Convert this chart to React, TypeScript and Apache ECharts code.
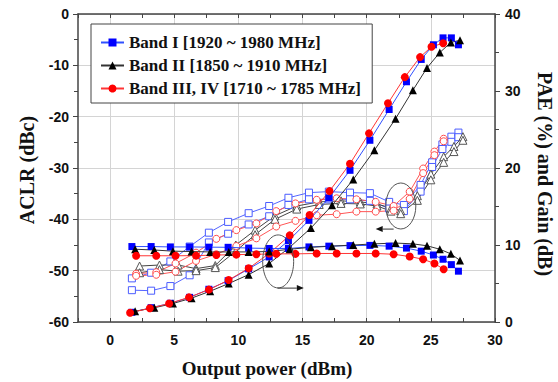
import React, { useEffect, useRef } from "react";
import * as echarts from "echarts";

const SERIF = "'Liberation Serif', 'Times New Roman', serif";
const SANS = "'Liberation Sans', Arial, sans-serif";

// ---------------- data ----------------
const bandNames = [
  "Band I [1920 ~ 1980 MHz]",
  "Band II [1850 ~ 1910 MHz]",
  "Band III, IV [1710 ~ 1785 MHz]",
];

// Band I (blue)
const bandIPower = [1.7, 3.2, 4.7, 6.2, 7.7, 9.2, 10.8, 12.4, 13.9, 15.5, 17.05, 18.7, 20.25, 21.75, 23.1, 24.25, 25.2, 25.95, 26.6, 27.15];
const bandIPae = [1.26, 1.86, 2.43, 3.2, 4.25, 5.36, 6.9, 8.45, 10.55, 13.2, 16.1, 19.7, 23.6, 27.6, 31.2, 34.1, 36.0, 36.9, 36.9, 36.0];
const bandIGain = [9.8, 9.8, 9.75, 9.75, 9.72, 9.7, 9.6, 9.55, 9.55, 9.75, 9.85, 9.92, 9.95, 9.85, 9.6, 9.2, 8.7, 8.15, 7.45, 6.6];
const bandIAclrPower = [1.7, 3.2, 4.7, 6.2, 7.7, 9.2, 10.8, 12.4, 13.9, 15.5, 17.05, 18.7, 20.25, 21.75, 22.9, 24.2, 25.1, 25.9, 26.6, 27.15];
const bandIAclrA = [-51.5, -50.4, -48.2, -45.3, -42.6, -40.5, -38.8, -37.4, -35.8, -34.8, -34.6, -34.8, -34.9, -36.6, -37.2, -33.3, -28.9, -25.4, -23.9, -23.1];
const bandIAclrB = [-53.8, -53.9, -53.0, -50.9, -44.5, -42.8, -41.0, -39.4, -37.2, -36.1, -36.1, -36.1, -36.4, -37.9, -38.4, -34.6, -29.8, -26.3, -24.9, -24.0];

// Band II (black)
const bandIIPower = [1.95, 3.45, 4.9, 6.35, 7.8, 9.25, 10.8, 12.4, 14.0, 15.65, 17.3, 18.95, 20.6, 22.25, 23.6, 24.7, 25.7, 26.56, 27.27];
const bandIIPae = [1.4, 1.85, 2.4, 3.1, 4.0, 5.0, 6.15, 7.6, 9.7, 12.2, 15.15, 18.5, 22.3, 26.4, 30.1, 33.0, 35.0, 36.3, 36.6];
const bandIIGain = [9.45, 9.35, 9.2, 9.15, 9.1, 9.1, 9.1, 9.15, 9.45, 9.7, 9.85, 10.0, 10.15, 10.25, 10.15, 9.9, 9.45, 8.85, 8.0];
const bandIIAclrPower = [2.3, 3.85, 5.3, 6.7, 8.2, 9.8, 11.3, 12.85, 14.55, 16.3, 18.0, 19.5, 20.8, 21.9, 22.65, 23.95, 25.0, 26.0, 26.8, 27.5];
const bandIIAclrA = [-49.1, -48.9, -48.9, -49.6, -49.0, -45.0, -42.1, -39.3, -37.4, -36.6, -36.4, -36.6, -37.0, -37.8, -38.3, -35.4, -31.2, -27.8, -25.8, -23.9];
const bandIIAclrB = [-50.4, -49.8, -50.1, -50.0, -49.4, -46.2, -43.0, -40.0, -38.0, -37.1, -36.9, -37.0, -37.4, -38.4, -38.9, -36.3, -32.3, -28.9, -26.8, -24.6];

// Band III, IV (red)
const bandIIIPaePower = [1.56, 3.1, 4.6, 6.15, 7.7, 9.24, 10.8, 12.4, 14.0, 15.55, 17.1, 18.7, 20.18, 21.66, 22.97, 24.16, 25.05, 25.96];
const bandIIIPae = [1.2, 1.78, 2.4, 3.2, 4.2, 5.45, 6.97, 8.9, 11.25, 13.9, 17.0, 20.55, 24.5, 28.4, 31.8, 34.4, 35.75, 36.2];
const bandIIIPower = [2.03, 3.6, 5.1, 6.7, 8.28, 9.84, 11.4, 12.95, 14.45, 16.1, 17.66, 19.2, 20.7, 22.1, 23.35, 24.4, 25.28, 26.0];
const bandIIIGain = [8.6, 8.6, 8.6, 8.62, 8.7, 8.75, 8.8, 8.85, 8.85, 8.9, 8.9, 8.9, 8.9, 8.8, 8.5, 8.15, 7.6, 6.85];
const bandIIIAclrA = [-50.6, -50.3, -48.6, -46.5, -43.8, -42.1, -40.8, -38.4, -36.9, -36.2, -35.9, -36.1, -36.6, -37.4, -34.6, -30.1, -26.8, -24.3];
const bandIIIAclrB = [-51.0, -50.8, -50.2, -48.1, -46.8, -45.2, -43.7, -41.4, -40.3, -39.2, -39.0, -38.5, -38.5, -38.3, -36.0, -31.0, -27.5, -24.8];

// axes
const xMin = -2.5;
const xMax = 30;
const xStep = 2.5;
const aclrMin = -60;
const aclrMax = 0;
const paeMin = 0;
const paeMax = 40;

// annotations (data coords on x / ACLR axis)
const noteEllipses = [
  { cx: 13.1, cy: -48.2, rx: 15.5, ry: 26.5, ax0: 13.05, ax1: 15.1, ay: -53.4 },
  { cx: 22.66, cy: -37.4, rx: 15, ry: 23, ax0: 22.1, ax1: 20.7, ay: -41.9 },
];

// ---------------- helpers ----------------
const zip = (xs: number[], ys: number[]) => ys.map((y, i) => [xs[i], y]);

const colors = {
  blue: { mark: "#0000ff", line: "#3050ff" },
  black: { mark: "#000000", line: "#333333" },
  red: { mark: "#ff0000", line: "#ff3535" },
  blueOpen: { mark: "#4a5cff", line: "#5565ff" },
  blackOpen: { mark: "#555555", line: "#444444" },
  redOpen: { mark: "#ff4a4a", line: "#ff5555" },
};

function lineSeries(
  name: string,
  data: number[][],
  yAxisIndex: number,
  symbol: string,
  size: number,
  c: { mark: string; line: string },
  z: number,
  hollow = false
) {
  return {
    type: "line",
    name,
    data,
    xAxisIndex: 0,
    yAxisIndex,
    symbol,
    symbolSize: size,
    showAllSymbol: true,
    z,
    lineStyle: { color: c.line, width: 1 },
    itemStyle: hollow
      ? { color: "#ffffff", borderColor: c.mark, borderWidth: 1 }
      : { color: c.mark },
    emphasis: { disabled: true },
  };
}

export default function App() {
  const ref = useRef<HTMLDivElement | null>(null);

  useEffect(() => {
    if (!ref.current) return;
    const chart = echarts.init(ref.current, undefined, { renderer: "svg" });

    const series = [
      lineSeries(bandNames[0], zip(bandIPower, bandIPae), 1, "rect", 7, colors.blue, 5),
      lineSeries(bandNames[1], zip(bandIIPower, bandIIPae), 1, "triangle", 8, colors.black, 5),
      lineSeries(bandNames[2], zip(bandIIIPaePower, bandIIIPae), 1, "circle", 8, colors.red, 5),
      lineSeries(bandNames[0], zip(bandIPower, bandIGain), 1, "rect", 7, colors.blue, 5),
      lineSeries(bandNames[1], zip(bandIIPower, bandIIGain), 1, "triangle", 8, colors.black, 5),
      lineSeries(bandNames[2], zip(bandIIIPower, bandIIIGain), 1, "circle", 8, colors.red, 5),
      lineSeries(bandNames[0], zip(bandIAclrPower, bandIAclrA), 0, "rect", 7, colors.blueOpen, 3, true),
      lineSeries(bandNames[0], zip(bandIAclrPower, bandIAclrB), 0, "rect", 7, colors.blueOpen, 3, true),
      lineSeries(bandNames[1], zip(bandIIAclrPower, bandIIAclrA), 0, "triangle", 8, colors.blackOpen, 3, true),
      lineSeries(bandNames[1], zip(bandIIAclrPower, bandIIAclrB), 0, "triangle", 8, colors.blackOpen, 3, true),
      lineSeries(bandNames[2], zip(bandIIIPower, bandIIIAclrA), 0, "circle", 7, colors.redOpen, 3, true),
      lineSeries(bandNames[2], zip(bandIIIPower, bandIIIAclrB), 0, "circle", 7, colors.redOpen, 3, true),
    ];

    const axisLineStyle = { color: "#444", width: 1.5 };
    const tickLabel = {
      fontFamily: SANS,
      fontWeight: "bold" as const,
      fontSize: 14,
      color: "#111",
    };

    const titleGraphics = [
      {
        id: "t-left",
        type: "text",
        x: 27,
        y: 170,
        rotation: Math.PI / 2,
        style: {
          text: "ACLR (dBc)",
          font: `bold 20px ${SERIF}`,
          fill: "#111",
          align: "center",
          verticalAlign: "middle",
        },
      },
      {
        id: "t-right",
        type: "text",
        x: 545,
        y: 174,
        rotation: -Math.PI / 2,
        style: {
          text: "PAE (%) and Gain (dB)",
          font: `bold 20px ${SERIF}`,
          fill: "#111",
          align: "center",
          verticalAlign: "middle",
        },
      },
      {
        id: "t-bottom",
        type: "text",
        x: 267,
        y: 368,
        style: {
          text: "Output power (dBm)",
          font: `bold 19px ${SERIF}`,
          fill: "#111",
          align: "center",
          verticalAlign: "middle",
        },
      },
    ];

    const option: any = {
      animation: false,
      backgroundColor: "#ffffff",
      grid: { left: 78, right: 63, top: 14, bottom: 60, containLabel: false },
      legend: {
        orient: "vertical",
        left: 91,
        top: 24,
        padding: [10, 11, 6, 9],
        itemGap: 6,
        itemWidth: 23,
        itemHeight: 10,
        backgroundColor: "#ffffff",
        borderColor: "#444",
        borderWidth: 1,
        borderRadius: 0,
        selectedMode: false,
        data: bandNames,
        textStyle: {
          fontFamily: SERIF,
          fontWeight: "bold",
          fontSize: 17,
          lineHeight: 17,
          color: "#111",
        },
      },
      xAxis: [
        {
          type: "value",
          position: "bottom",
          min: xMin,
          max: xMax,
          interval: xStep,
          axisLine: { show: true, onZero: false, lineStyle: axisLineStyle },
          axisTick: { show: true, inside: true, length: 4, lineStyle: { color: "#444", width: 1 } },
          axisLabel: {
            ...tickLabel,
            margin: 11,
            formatter: (v: number) => (Math.abs(v % 5) < 1e-6 ? String(v) : ""),
          },
          splitLine: {
            show: true,
            lineStyle: { color: ["rgba(0,0,0,0)", "#d4d4d4"], width: 1 },
          },
        },
        {
          type: "value",
          position: "top",
          min: xMin,
          max: xMax,
          interval: xStep,
          axisLine: { show: true, onZero: false, lineStyle: axisLineStyle },
          axisTick: { show: true, inside: true, length: 4, lineStyle: { color: "#444", width: 1 } },
          axisLabel: { show: false },
          splitLine: { show: false },
        },
      ],
      yAxis: [
        {
          type: "value",
          position: "left",
          min: aclrMin,
          max: aclrMax,
          interval: 10,
          axisLine: { show: true, onZero: false, lineStyle: axisLineStyle },
          axisTick: { show: true, inside: false, length: 5, lineStyle: { color: "#444", width: 1 } },
          minorTick: { show: true, splitNumber: 2, length: 4, lineStyle: { color: "#444", width: 1 } },
          axisLabel: { ...tickLabel, margin: 9 },
          splitLine: { show: true, lineStyle: { color: "#d4d4d4", width: 1 } },
        },
        {
          type: "value",
          position: "right",
          min: paeMin,
          max: paeMax,
          interval: 10,
          axisLine: { show: true, onZero: false, lineStyle: axisLineStyle },
          axisTick: { show: true, inside: false, length: 5, lineStyle: { color: "#444", width: 1 } },
          minorTick: { show: true, splitNumber: 2, length: 4, lineStyle: { color: "#444", width: 1 } },
          axisLabel: { ...tickLabel, margin: 10 },
          splitLine: { show: false },
        },
      ],
      series,
      graphic: titleGraphics,
    };

    chart.setOption(option);

    // annotation ellipses and arrows, positioned through the axes
    const notes: any[] = [];
    noteEllipses.forEach((n, i) => {
      const c = chart.convertToPixel({ xAxisIndex: 0, yAxisIndex: 0 }, [n.cx, n.cy]) as number[];
      const a0 = chart.convertToPixel({ xAxisIndex: 0, yAxisIndex: 0 }, [n.ax0, n.ay]) as number[];
      const a1 = chart.convertToPixel({ xAxisIndex: 0, yAxisIndex: 0 }, [n.ax1, n.ay]) as number[];
      notes.push({
        id: `ell-${i}`,
        type: "ellipse",
        z: 20,
        shape: { cx: c[0], cy: c[1], rx: n.rx, ry: n.ry },
        style: { fill: "none", stroke: "#555", lineWidth: 1 },
      });
      const dir = Math.sign(a1[0] - a0[0]);
      const headLen = 7;
      notes.push({
        id: `arr-${i}`,
        type: "line",
        z: 20,
        shape: { x1: a0[0], y1: a0[1], x2: a1[0] - dir * headLen, y2: a1[1] },
        style: { stroke: "#333", lineWidth: 1 },
      });
      notes.push({
        id: `head-${i}`,
        type: "polygon",
        z: 20,
        shape: {
          points: [
            [a1[0], a1[1]],
            [a1[0] - dir * headLen, a1[1] - 3],
            [a1[0] - dir * headLen, a1[1] + 3],
          ],
        },
        style: { fill: "#111", stroke: "none" },
      });
    });

    chart.setOption({ graphic: [...titleGraphics, ...notes] });

    return () => {
      chart.dispose();
    };
  }, []);

  return (
    <div
      ref={ref}
      style={{ position: "fixed", left: 0, top: 0, width: 558, height: 382, background: "#fff" }}
    />
  );
}
